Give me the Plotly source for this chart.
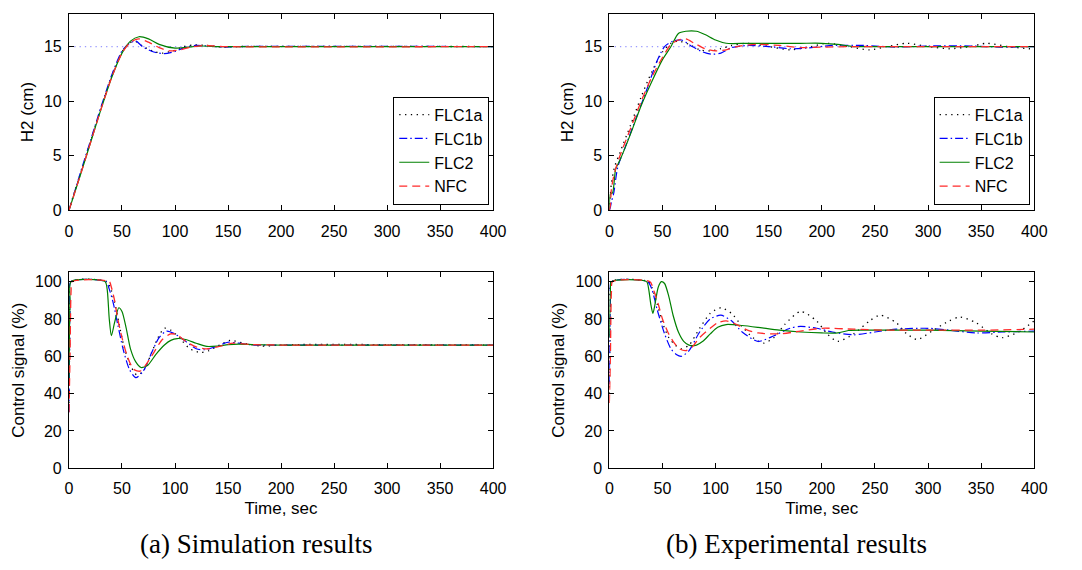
import plotly.graph_objects as go

# ---------------- (a) Simulation: tank level H2 (cm) ----------------
sim_h2_flc1a_t = [0, 5, 10, 20, 30, 40, 50, 57, 62, 70, 80, 88, 98, 108, 118, 130, 145, 160, 400]
sim_h2_flc1a = [0, 1.6, 3.1, 6.2, 9.3, 12.2, 14.5, 15.3, 15.5, 15.0, 14.55, 14.4, 14.6, 15.0, 15.15, 15.1, 14.95, 15.0, 15.0]
sim_h2_flc1b_t = [0, 5, 10, 20, 30, 40, 50, 57, 63, 70, 80, 90, 100, 110, 120, 132, 145, 160, 400]
sim_h2_flc1b = [0, 1.6, 3.2, 6.3, 9.4, 12.3, 14.6, 15.3, 15.5, 14.95, 14.5, 14.35, 14.55, 14.95, 15.1, 15.05, 14.95, 15.0, 15.0]
sim_h2_flc2_t = [0, 5, 10, 20, 30, 40, 50, 58, 66, 75, 85, 100, 112, 125, 140, 160, 400]
sim_h2_flc2 = [0, 1.5, 3.0, 6.1, 9.2, 12.1, 14.4, 15.5, 15.9, 15.7, 15.2, 14.85, 14.95, 15.05, 15.0, 15.0, 15.0]
sim_h2_nfc_t = [0, 5, 10, 20, 30, 40, 50, 58, 66, 75, 85, 95, 105, 115, 128, 145, 400]
sim_h2_nfc = [0, 1.5, 3.0, 6.1, 9.2, 12.1, 14.4, 15.4, 15.7, 15.4, 14.9, 14.6, 14.7, 14.95, 15.1, 15.0, 15.0]

# ---------------- (a) Simulation: control signal (%) ----------------
sim_u_flc1a_t = [0, 1, 2, 36, 39, 43, 47, 52, 58, 64, 70, 78, 84, 90, 96, 104, 114, 124, 132, 142, 152, 165, 180, 200, 220, 400]
sim_u_flc1a = [35, 80, 100, 100, 97, 89, 78, 65, 55, 50, 52, 62, 70, 75, 74, 70, 64, 62, 63, 66, 68.5, 67, 65.5, 66, 66.3, 66]
sim_u_flc1b_t = [0, 1, 2, 35, 38, 42, 46, 51, 57, 63, 70, 78, 85, 92, 100, 110, 120, 128, 138, 150, 160, 175, 200, 400]
sim_u_flc1b = [30, 85, 100, 100, 96, 88, 77, 64, 53, 48.5, 52, 62, 70, 73.5, 72, 68, 64, 63.5, 65, 67.5, 67, 66, 66, 66]
sim_u_flc2_t = [0, 1, 2, 34, 36, 38, 40, 43, 47, 50, 54, 58, 63, 68, 74, 82, 90, 96, 102, 110, 120, 130, 140, 150, 160, 175, 200, 400]
sim_u_flc2 = [45, 90, 100, 100, 96, 80, 71, 78, 86, 84, 75, 64, 57, 54, 55, 61, 66, 68.5, 69.5, 69, 67, 65.3, 65.5, 66.2, 66.5, 66.2, 66, 66]
sim_u_nfc_t = [0, 1, 2, 3, 38, 40, 43, 46, 50, 55, 61, 67, 72, 80, 88, 96, 102, 110, 120, 130, 140, 155, 170, 200, 400]
sim_u_nfc = [30, 60, 95, 100, 100, 97, 90, 80, 70, 60, 53, 52, 55, 62, 69, 72, 71.5, 68, 65, 64, 65, 67, 66.3, 66, 66]

# ---------------- (b) Experiment: tank level H2 (cm) ----------------
exp_h2_flc1a_t = [0, 1, 2, 5, 10, 20, 30, 40, 50, 58, 65, 75, 85, 95, 105, 115, 130, 150, 170, 190, 205, 225, 245, 262, 280, 300, 320, 340, 355, 375, 395, 400]
exp_h2_flc1a = [0, 1.5, 2.5, 4.0, 5.3, 7.8, 10.4, 12.7, 14.5, 15.3, 15.5, 15.2, 14.7, 14.6, 14.8, 15.1, 15.3, 15.0, 14.7, 15.0, 15.3, 15.0, 14.7, 15.0, 15.3, 15.0, 14.8, 15.0, 15.3, 15.0, 14.8, 14.8]
exp_h2_flc1b_t = [0, 1, 2, 4, 8, 15, 25, 35, 45, 52, 60, 68, 78, 88, 96, 105, 115, 130, 150, 170, 185, 210, 240, 270, 300, 340, 370, 400]
exp_h2_flc1b = [0, 0.3, 0.8, 1.5, 4.0, 5.8, 8.4, 11.0, 13.7, 15.0, 15.5, 15.6, 15.0, 14.5, 14.3, 14.4, 14.9, 15.1, 15.0, 14.8, 14.85, 15.1, 15.1, 14.95, 15.05, 15.05, 14.95, 15.0]
exp_h2_flc2_t = [0, 1, 3, 6, 10, 20, 30, 40, 50, 58, 65, 72, 82, 90, 100, 110, 130, 150, 180, 200, 215, 230, 260, 300, 400]
exp_h2_flc2 = [0, 1.5, 1.6, 3.8, 4.6, 7.0, 9.6, 11.8, 13.8, 15.0, 16.2, 16.4, 16.4, 16.1, 15.6, 15.3, 15.3, 15.3, 15.3, 15.3, 15.2, 15.0, 15.0, 15.0, 15.0]
exp_h2_nfc_t = [0, 1, 2, 5, 10, 20, 30, 40, 50, 58, 65, 72, 80, 90, 100, 110, 120, 140, 160, 180, 200, 230, 260, 300, 350, 400]
exp_h2_nfc = [0, 0.5, 2.0, 3.5, 5.0, 7.5, 10.0, 12.2, 14.0, 15.2, 15.6, 15.7, 15.3, 14.8, 14.6, 14.7, 15.0, 15.2, 15.1, 14.9, 14.95, 15.0, 15.0, 15.0, 15.0, 15.0]

# ---------------- (b) Experiment: control signal (%) ----------------
exp_u_flc1a_t = [0, 1, 2, 37, 40, 45, 50, 56, 62, 68, 75, 85, 95, 105, 115, 125, 135, 145, 155, 165, 180, 195, 205, 215, 230, 245, 255, 270, 280, 290, 305, 320, 330, 345, 360, 370, 385, 400]
exp_u_flc1a = [40, 85, 100, 100, 97, 88, 78, 70, 66, 64, 66, 75, 83, 86, 83, 76, 70, 67, 70, 77, 84, 79, 72, 68, 72, 79, 82, 78, 72, 69, 74, 79, 81, 78, 72, 70, 73, 79]
exp_u_flc1b_t = [0, 1, 2, 36, 40, 45, 52, 58, 63, 68, 75, 85, 95, 105, 115, 125, 140, 155, 170, 180, 195, 210, 230, 250, 270, 300, 320, 345, 370, 400]
exp_u_flc1b = [45, 90, 100, 100, 96, 85, 72, 64, 61, 60, 63, 73, 80, 82, 79, 73, 68, 71, 75, 76, 75, 73, 71.5, 73, 74.5, 75, 74, 72.5, 73, 73.5]
exp_u_flc2_t = [0, 1, 2, 35, 37, 39, 41, 43, 46, 49, 52, 56, 60, 65, 70, 75, 82, 88, 95, 102, 110, 125, 140, 160, 180, 200, 215, 225, 240, 300, 350, 400]
exp_u_flc2 = [70, 95, 100, 100, 96, 88, 83, 88, 97, 100, 99, 92, 82, 73, 68, 66, 66, 68, 72, 75.5, 77, 76.5, 75.5, 74, 73, 72.5, 72.5, 73.8, 74, 74, 73.5, 73]
exp_u_nfc_t = [0, 1, 2, 3, 38, 42, 46, 50, 55, 60, 66, 72, 78, 85, 95, 102, 110, 120, 130, 140, 160, 180, 200, 230, 260, 300, 350, 400]
exp_u_nfc = [35, 60, 95, 100, 100, 95, 88, 80, 73, 68, 64, 63, 65, 70, 75, 78, 79, 77, 74, 72.5, 72, 73.5, 75, 74.5, 74, 74, 74, 74.5]

# level setpoint
setpoint_t = [0, 400]
setpoint = [15, 15]

series_names = ["FLC1a", "FLC1b", "FLC2", "NFC"]
line_styles = {
    "FLC1a": dict(color="black", dash="1.3px,4.5px", width=1.3),
    "FLC1b": dict(color="#0000ff", dash="8px,3px,1.5px,3px", width=1.2),
    "FLC2": dict(color="#008000", dash="solid", width=1.2),
    "NFC": dict(color="#ff2a2a", dash="8px,5px", width=1.3),
}

panels = [
    # (x axis, y axis, legend id or None, series data)
    ("x", "y", "legend", [(sim_h2_flc1a_t, sim_h2_flc1a), (sim_h2_flc1b_t, sim_h2_flc1b),
                          (sim_h2_flc2_t, sim_h2_flc2), (sim_h2_nfc_t, sim_h2_nfc)]),
    ("x2", "y2", None, [(sim_u_flc1a_t, sim_u_flc1a), (sim_u_flc1b_t, sim_u_flc1b),
                        (sim_u_flc2_t, sim_u_flc2), (sim_u_nfc_t, sim_u_nfc)]),
    ("x3", "y3", "legend2", [(exp_h2_flc1a_t, exp_h2_flc1a), (exp_h2_flc1b_t, exp_h2_flc1b),
                             (exp_h2_flc2_t, exp_h2_flc2), (exp_h2_nfc_t, exp_h2_nfc)]),
    ("x4", "y4", None, [(exp_u_flc1a_t, exp_u_flc1a), (exp_u_flc1b_t, exp_u_flc1b),
                        (exp_u_flc2_t, exp_u_flc2), (exp_u_nfc_t, exp_u_nfc)]),
]

fig = go.Figure()

for xa, ya, leg, data in panels:
    if ya in ("y", "y3"):
        fig.add_trace(go.Scatter(
            x=setpoint_t, y=setpoint, xaxis=xa, yaxis=ya, mode="lines",
            line=dict(color="rgba(110,110,255,0.7)", dash="1.3px,4px", width=1.3),
            showlegend=False, hoverinfo="skip"))
    for name, (t, v) in zip(series_names, data):
        kw = dict(legend=leg, showlegend=True) if leg else dict(showlegend=False)
        fig.add_trace(go.Scatter(
            x=t, y=v, name=name, xaxis=xa, yaxis=ya, mode="lines",
            line=dict(shape="spline", smoothing=0.7, **line_styles[name]), **kw))

sans = "Liberation Sans, Arial, sans-serif"
tick_font = dict(family=sans, size=16, color="black")
title_font = dict(family=sans, size=17, color="black")

axis_common = dict(
    showline=True, linecolor="black", linewidth=1, mirror="ticks",
    ticks="inside", ticklen=5, tickcolor="black", tickwidth=1,
    showgrid=False, zeroline=False, tickfont=tick_font, title_font=title_font,
)

xa_dom = [0.061, 0.4593]
xb_dom = [0.5684, 0.9674]
top_dom = [0.6251, 0.9754]
bot_dom = [0.1654, 0.5146]
x_ticks = [0, 50, 100, 150, 200, 250, 300, 350, 400]

layout_axes = {}
for i, (xd, yd, yr, yt, ytitle, xtitle) in enumerate([
    (xa_dom, top_dom, [0, 18], [0, 5, 10, 15], "H2 (cm)", None),
    (xa_dom, bot_dom, [0, 105], [0, 20, 40, 60, 80, 100], "Control signal (%)", "Time, sec"),
    (xb_dom, top_dom, [0, 18], [0, 5, 10, 15], "H2 (cm)", None),
    (xb_dom, bot_dom, [0, 105], [0, 20, 40, 60, 80, 100], "Control signal (%)", "Time, sec"),
], start=1):
    sfx = "" if i == 1 else str(i)
    layout_axes["xaxis" + sfx] = dict(
        axis_common, domain=xd, range=[0, 400], tickvals=x_ticks,
        anchor="y" + sfx, ticklabelstandoff=6,
        title=dict(text=xtitle, standoff=5) if xtitle else None)
    layout_axes["yaxis" + sfx] = dict(
        axis_common, domain=yd, range=yr, tickvals=yt,
        anchor="x" + sfx, ticklabelstandoff=3, title=dict(text=ytitle, standoff=6))

legend_style = dict(
    bgcolor="white", bordercolor="black", borderwidth=1,
    font=dict(family=sans, size=16, color="black"),
    xanchor="right", yanchor="bottom", tracegroupgap=0,
    entrywidth=62, itemwidth=30,
)

caption_font = dict(family="Liberation Serif, DejaVu Serif, serif", size=27, color="black")

fig.update_layout(
    width=1082, height=570,
    margin=dict(l=0, r=0, t=0, b=0),
    paper_bgcolor="white", plot_bgcolor="white",
    legend=dict(legend_style, x=493 / 1082, y=0.635),
    legend2=dict(legend_style, x=1042 / 1082, y=0.635),
    annotations=[
        dict(text="(a) Simulation results", x=256 / 1082, y=0.03, xref="paper", yref="paper",
             showarrow=False, font=caption_font, xanchor="center", yanchor="middle"),
        dict(text="(b) Experimental results", x=805 / 1082, y=0.03, xref="paper", yref="paper",
             showarrow=False, font=caption_font, xanchor="center", yanchor="middle"),
    ],
    **layout_axes,
)

fig.write_html("out.html")
